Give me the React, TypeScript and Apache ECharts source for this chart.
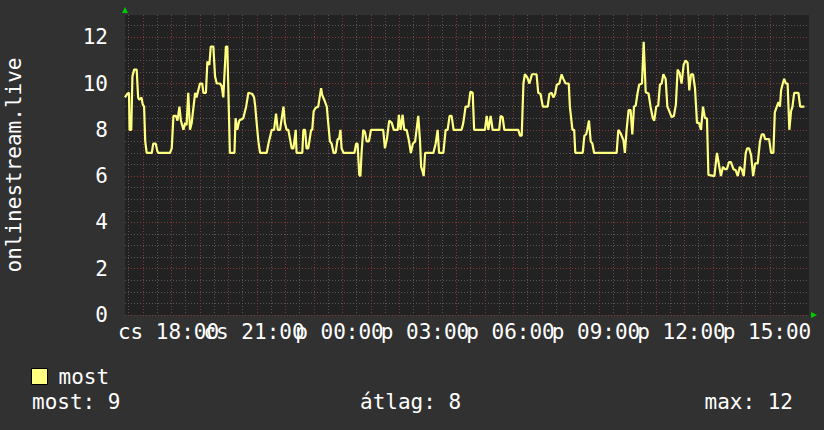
import React, { useEffect, useRef } from 'react';
import * as echarts from 'echarts';

const seriesName = 'most';
const yAxisTitle = 'onlinestream.live';
const xTickLabels = ['cs 18:00', 'cs 21:00', 'p 00:00', 'p 03:00', 'p 06:00', 'p 09:00', 'p 12:00', 'p 15:00'];
const statLabels = ['most', 'átlag', 'max'];
const statValues = [9, 8, 12];

// hours since the left edge of the plot
const sampleHours = [
  0, 0.08, 0.14, 0.16, 0.22, 0.26, 0.32, 0.41, 0.46, 0.5, 0.58, 0.62, 0.67, 0.71, 0.76, 0.94, 0.99, 1.08, 1.13, 1.17,
  1.58, 1.64, 1.7, 1.79, 1.84, 1.91, 1.96, 2.05, 2.11, 2.16, 2.22, 2.28, 2.34, 2.46, 2.51, 2.63, 2.71, 2.75, 2.84, 2.89,
  2.96, 3.01, 3.1, 3.16, 3.22, 3.33, 3.39, 3.45, 3.54, 3.59, 3.65, 3.68, 3.84, 3.88, 3.94, 4.01, 4.15, 4.25, 4.33, 4.47,
  4.53, 4.57, 4.62, 4.68, 4.74, 4.97, 5.05, 5.15, 5.23, 5.3, 5.36, 5.44, 5.56, 5.61, 5.67, 5.73, 5.79, 5.85, 5.91, 5.99,
  6.02, 6.22, 6.26, 6.32, 6.37, 6.43, 6.53, 6.57, 6.62, 6.69, 6.78, 6.88, 6.92, 6.99, 7.08, 7.13, 7.19, 7.25, 7.32, 7.39,
  7.46, 7.51, 7.56, 7.6, 7.67, 8.05, 8.11, 8.16, 8.22, 8.26, 8.3, 8.36, 8.42, 8.48, 8.56, 8.63, 9.06, 9.12, 9.19, 9.27,
  9.36, 9.43, 9.57, 9.61, 9.67, 9.74, 9.8, 9.88, 9.96, 10.03, 10.1, 10.18, 10.23, 10.29, 10.35, 10.39, 10.43, 10.48, 10.53, 10.82,
  10.9, 10.97, 11.02, 11.17, 11.25, 11.32, 11.39, 11.46, 11.53, 11.81, 11.87, 11.95, 12.05, 12.12, 12.2, 12.25, 12.63, 12.69, 12.75, 12.83,
  12.9, 13.13, 13.18, 13.25, 13.31, 13.8, 13.86, 13.92, 13.98, 14.03, 14.12, 14.19, 14.28, 14.44, 14.5, 14.58, 14.66, 14.83, 14.89, 14.97,
  15.03, 15.09, 15.15, 15.24, 15.32, 15.38, 15.46, 15.57, 15.61, 15.7, 15.76, 15.8, 16.06, 16.12, 16.18, 16.22, 16.28, 16.34, 16.4, 16.46,
  17.25, 17.31, 17.39, 17.49, 17.54, 17.6, 17.67, 17.74, 17.8, 17.86, 17.92, 17.98, 18.04, 18.14, 18.2, 18.27, 18.37, 18.44, 18.52, 18.57,
  18.64, 18.71, 18.77, 18.83, 18.89, 18.97, 19.03, 19.1, 19.18, 19.26, 19.33, 19.39, 19.46, 19.53, 19.6, 19.67, 19.74, 19.8, 19.86, 19.93,
  20.0, 20.07, 20.14, 20.21, 20.28, 20.35, 20.42, 20.47, 20.68, 20.77, 20.84, 20.91, 20.98, 21.05, 21.12, 21.19, 21.26, 21.35, 21.43, 21.5,
  21.57, 21.64, 21.71, 21.78, 21.83, 21.9, 21.97, 22.04, 22.11, 22.2, 22.28, 22.34, 22.41, 22.46, 22.6, 22.67, 22.75, 22.8, 22.87, 22.93,
  22.98, 23.02, 23.08, 23.13, 23.19, 23.25, 23.31, 23.37, 23.42, 23.48, 23.63, 23.69, 23.84,
];

const sampleValues = [
  9.4, 9.55, 9.6, 8, 8, 10.3, 10.6, 10.6, 9.4, 9.3, 9.4, 9.1, 9.0, 7.5, 7, 7, 7.4, 7.4, 7.1, 7,
  7, 7.2, 8.6, 8.6, 8.4, 9.0, 8.4, 8, 8.3, 8.2, 9.6, 8, 8.3, 9.6, 9.4, 10, 10, 9.6, 9.6, 10.95,
  10.8, 11.6, 11.6, 10.3, 10, 10, 9.9, 9.4, 11.6, 11.6, 8.5, 7, 7, 8.5, 8, 8.4, 8.5, 9.0, 9.6, 9.55,
  9.4, 9.0, 8.3, 7.5, 7, 7, 7.5, 8, 8, 8.7, 8, 8, 9.0, 8.3, 8, 8, 7.6, 7.2, 7.2, 8,
  7, 7, 8, 8, 7.2, 7.2, 8, 8, 8.8, 8.95, 9.0, 9.8, 9.5, 9.3, 9.0, 8.3, 7.5, 7.4, 7, 7,
  7.6, 7.6, 8, 7.2, 7, 7, 7.4, 7.4, 6.05, 6, 7, 8, 7.9, 7.5, 7.5, 8, 8, 7.2, 7.6, 8.4,
  8.3, 8, 8, 8.65, 8, 8.65, 8, 8, 7.55, 7, 7.4, 7.5, 8, 8.6, 7.55, 6.4, 6.25, 6, 7, 7,
  7.4, 8, 7, 7, 8, 8, 8.6, 8.6, 8, 8, 8.3, 9.0, 9.0, 9.65, 9.6, 8, 8, 8.6, 8, 8.6,
  8, 8, 8.6, 8.55, 8, 8, 7.75, 7.75, 10, 10.4, 10.25, 10, 10.4, 10.4, 9.6, 9.55, 9, 9, 9.55, 9.6,
  9.4, 9.55, 9.95, 10, 10.4, 10.2, 10, 10, 9, 8, 8, 7, 7, 7.75, 7.8, 8, 8.4, 7.5, 7.4, 7,
  7, 8, 7.85, 7.55, 7, 8, 8.85, 8.85, 7.8, 9, 9.05, 9.55, 9.95, 10, 11.8, 9.62, 9.57, 9.0, 8.5, 8.4,
  9, 9.05, 9.95, 10, 10.4, 10.2, 9, 8.8, 8.55, 8.6, 9.1, 10.6, 10.45, 10, 10.8, 11, 10.9, 9.7, 10.4, 10.4,
  9.8, 8.3, 8.3, 8, 9, 8.5, 8.5, 6.05, 6, 7, 6.5, 6, 6.4, 6.3, 6.3, 6.6, 6.6, 6.3, 6.25, 6,
  6.4, 6.3, 6, 7, 7.2, 7.2, 6.9, 6, 6.55, 6.55, 7.5, 7.8, 7.8, 7.6, 7.6, 7, 7, 8.75, 9, 9.2,
  9, 9.7, 10, 10.2, 10, 10, 8, 8.8, 9, 9.6, 9.6, 9, 9,
];

const X_MAX = 24;
const Y_MAX = 12.96;
const GRID_OFFSET = 0.125;
const LABEL_OFFSET = 1.526;
const LABEL_STEP = 3;

const FONT = 'DejaVu Sans Mono';
const LINE_COLOR = '#ffff80';
const GRID_GRAY = '#575757';
const GRID_RED = '#833838';

export default function App() {
  const ref = useRef<HTMLDivElement>(null);

  useEffect(() => {
    if (!ref.current) return;
    const chart = echarts.init(ref.current, null, { renderer: 'svg' });

    const gridValues: number[] = [];
    for (let k = 0; k < X_MAX; k++) {
      gridValues.push(GRID_OFFSET + k, GRID_OFFSET + k + 0.5);
    }
    const labelValues = xTickLabels.map((_, i) => LABEL_OFFSET + LABEL_STEP * i);
    const evenLabelValues = labelValues.filter((_, i) => i % 2 === 0);
    const oddLabelValues = labelValues.filter((_, i) => i % 2 === 1);
    const data = sampleHours.map((h, i) => [h, sampleValues[i]]);
    const statTexts = statLabels.map((l, i) => `${l}: ${statValues[i]}`);

    const labelFormatter = (v: number) => {
      const i = Math.round((v - LABEL_OFFSET) / LABEL_STEP);
      return xTickLabels[i] ?? '';
    };
    const xLabelStyle = {
      hideOverlap: false,
      showMinLabel: true,
      showMaxLabel: true,
      color: '#ffffff',
      fontSize: 21,
      fontFamily: FONT,
      margin: 6,
      formatter: labelFormatter,
    };

    chart.setOption({
      animation: false,
      backgroundColor: '#313131',
      textStyle: { fontFamily: FONT },
      grid: {
        left: 125,
        top: 15,
        right: 15,
        bottom: 115,
        show: true,
        backgroundColor: '#222222',
        borderWidth: 0,
        outerBoundsMode: 'none',
      },
      xAxis: [
        {
          type: 'value',
          min: 0,
          max: X_MAX,
          position: 'bottom',
          axisLine: { show: false },
          axisTick: { show: false, customValues: gridValues },
          splitLine: {
            show: true,
            showMinLine: true,
            showMaxLine: false,
            lineStyle: { color: [GRID_GRAY, GRID_RED], type: [1, 2], width: 1 },
          },
          axisLabel: { ...xLabelStyle, customValues: evenLabelValues },
        },
        {
          type: 'value',
          min: 0,
          max: X_MAX,
          position: 'bottom',
          offset: 0,
          axisLine: { show: false },
          axisTick: { show: false },
          splitLine: { show: false },
          axisLabel: { ...xLabelStyle, customValues: oddLabelValues },
        },
      ],
      yAxis: {
        type: 'value',
        min: 0,
        max: Y_MAX,
        interval: 0.5,
        name: yAxisTitle,
        nameLocation: 'middle',
        nameRotate: 90,
        nameGap: 101,
        nameTextStyle: { color: '#ffffff', fontSize: 21, fontFamily: FONT },
        axisLine: { show: false },
        axisTick: { show: false },
        splitLine: {
          show: true,
          showMaxLine: false,
          lineStyle: { color: [GRID_RED, GRID_GRAY, GRID_GRAY, GRID_GRAY], type: [1, 2], width: 1 },
        },
        axisLabel: {
          color: '#ffffff',
          fontSize: 21,
          fontFamily: FONT,
          margin: 17,
          formatter: (v: number) => (Math.abs(v % 2) < 1e-9 ? String(v) : ''),
        },
      },
      legend: {
        left: 31,
        top: 366,
        padding: 0,
        itemWidth: 16,
        itemHeight: 16,
        selectedMode: false,
        data: [
          {
            name: seriesName,
            icon: 'rect',
            itemStyle: { color: LINE_COLOR, borderColor: '#000000', borderWidth: 1 },
          },
        ],
        textStyle: { color: '#ffffff', fontSize: 21, fontFamily: FONT, padding: [0, 0, 0, 6] },
      },
      series: [
        {
          type: 'line',
          name: seriesName,
          xAxisIndex: 0,
          data,
          showSymbol: false,
          symbol: 'none',
          lineStyle: { color: LINE_COLOR, width: 2.2 },
          itemStyle: { color: LINE_COLOR },
        },
      ],
      graphic: [
        {
          type: 'polygon',
          shape: { points: [[122, 13], [128, 13], [125, 7]] },
          style: { fill: '#00cc00' },
        },
        {
          type: 'polygon',
          shape: { points: [[811, 312], [811, 318], [817, 315]] },
          style: { fill: '#00cc00' },
        },
        {
          type: 'text',
          x: 32,
          y: 402,
          style: { text: statTexts[0], font: `21px "${FONT}"`, fill: '#ffffff', verticalAlign: 'middle', align: 'left' },
        },
        {
          type: 'text',
          x: 360,
          y: 402,
          style: { text: statTexts[1], font: `21px "${FONT}"`, fill: '#ffffff', verticalAlign: 'middle', align: 'left' },
        },
        {
          type: 'text',
          x: 793,
          y: 402,
          style: { text: statTexts[2], font: `21px "${FONT}"`, fill: '#ffffff', verticalAlign: 'middle', align: 'right' },
        },
      ],
    });

    return () => chart.dispose();
  }, []);

  return (
    <div
      ref={ref}
      style={{ position: 'fixed', left: 0, top: 0, width: 824, height: 430 }}
    />
  );
}
